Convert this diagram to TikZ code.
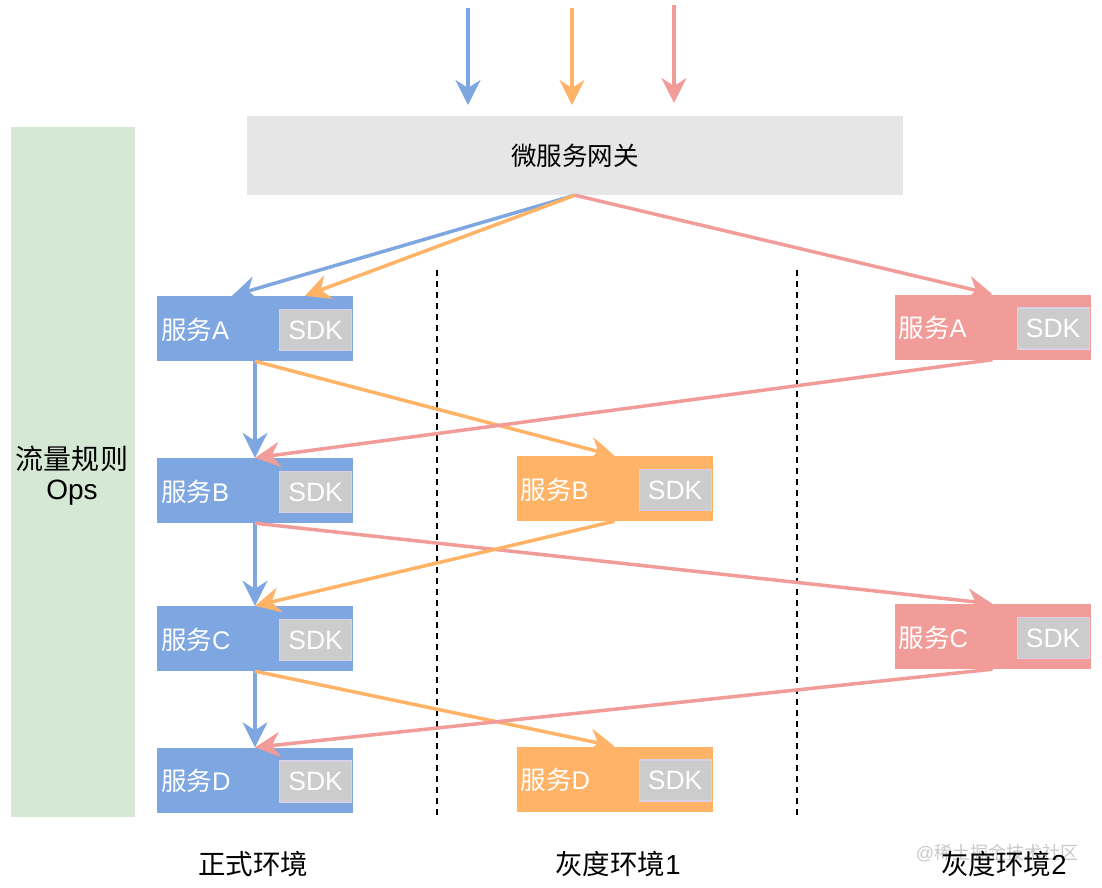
\documentclass[tikz,border=0pt]{standalone}
\usepackage{fontspec}
\setmainfont{Liberation Sans}
\newfontfamily\cjk{Noto Sans CJK SC}
\usetikzlibrary{arrows.meta,calc}
\definecolor{cblue}{HTML}{7EA6E0}
\definecolor{corange}{HTML}{FFB366}
\definecolor{cred}{HTML}{F19C99}
\definecolor{cgreen}{HTML}{D5E8D4}
\definecolor{cgw}{HTML}{E6E6E6}
\definecolor{csdk}{HTML}{CCCCCC}
\definecolor{csdkb}{HTML}{D9D0E8}
\definecolor{cwm}{HTML}{C8C8C8}
\begin{document}
\begin{tikzpicture}[x=1pt,y=-1pt,
  svc/.style={minimum width=196pt, minimum height=65pt, inner sep=0pt, draw=none},
  sdk/.style={fill=csdk, draw=csdkb, line width=1.2pt, minimum width=72pt, minimum height=41pt, inner sep=0pt, text=white, font=\fontsize{26.5}{30}\selectfont},
  lbl/.style={text=white, anchor=west, inner sep=0pt, font=\fontsize{25.5}{30}\selectfont},
  envlbl/.style={text=black, inner sep=0pt, font=\fontsize{27.5}{30}\selectfont},
  flow/.style={line width=3.5pt, -{Stealth[length=25pt,width=25pt,inset=8pt]}},
  sep/.style={line width=1.4pt, dash pattern=on 6pt off 5pt, black}]
\useasboundingbox (0,0) rectangle (1102,888);

% left rule panel
\node[fill=cgreen, minimum width=124pt, minimum height=690pt, inner sep=0pt] (ops) at (73,472) {};
\node[align=center, inner sep=0pt, font=\fontsize{28}{30}\selectfont] (opst) at (72,476) {{\cjk 流量规则}\\Ops};

% gateway
\node[fill=cgw, minimum width=656pt, minimum height=79pt, inner sep=0pt, font=\fontsize{25.5}{30}\selectfont] (gw) at (575,155.5) {{\cjk 微服务网关}};

% incoming arrows
\coordinate (inb1) at (468,8);   \coordinate (inb2) at (468,105);
\coordinate (ino1) at (572,8);   \coordinate (ino2) at (572,105);
\coordinate (inr1) at (674,5);   \coordinate (inr2) at (674,103);
\draw[flow, cblue] (inb1) -- (inb2);
\draw[flow, corange] (ino1) -- (ino2);
\draw[flow, cred] (inr1) -- (inr2);

% separators
\coordinate (d1t) at (437,270); \coordinate (d1b) at (437,815);
\coordinate (d2t) at (797,270); \coordinate (d2b) at (797,815);
\draw[sep] (d1t) -- (d1b);
\draw[sep] (d2t) -- (d2b);

% production services
\node[svc, fill=cblue] (bA) at (255,328.5) {};
\node[svc, fill=cblue] (bB) at (255,490.5) {};
\node[svc, fill=cblue] (bC) at (255,638.5) {};
\node[svc, fill=cblue] (bD) at (255,780) {};
% gray 1
\node[svc, fill=corange] (oB) at (614.5,488.5) {};
\node[svc, fill=corange] (oD) at (614.5,779) {};
% gray 2
\node[svc, fill=cred] (rA) at (992.5,327) {};
\node[svc, fill=cred] (rC) at (992.5,636.5) {};

\foreach \n/\t in {bA/A,bB/B,bC/C,bD/D,oB/B,oD/D,rA/A,rC/C}{
  \node[lbl] (\n l) at ([xshift=4pt,yshift=-1pt]\n.west) {{\cjk 服务}\t};
  \node[sdk, anchor=east] (\n s) at ([xshift=-1pt,yshift=-1.5pt]\n.east) {SDK};
}

% flows
\draw[flow, cblue] (gw.south) -- ([xshift=-23pt]bA.north);
\draw[flow, corange] (gw.south) -- ([xshift=50pt]bA.north);
\draw[flow, cred] (gw.south) -- (rA.north);
\draw[flow, cblue] (bA.south) -- (bB.north);
\draw[flow, cblue] (bB.south) -- (bC.north);
\draw[flow, cblue] (bC.south) -- (bD.north);
\draw[flow, corange] (bA.south) -- (oB.north);
\draw[flow, cred] (rA.south) -- (bB.north);
\draw[flow, cred] (bB.south) -- (rC.north);
\draw[flow, corange] (oB.south) -- (bC.north);
\draw[flow, corange] (bC.south) -- (oD.north);
\draw[flow, cred] (rC.south) -- (bD.north);

% environment labels
\node[text=cwm, inner sep=0pt, font=\fontsize{18}{20}\selectfont] (wm) at (997,853) {@{\cjk 稀土掘金技术社区}};
\node[envlbl] (e0) at (253,864) {{\cjk 正式环境}};
\node[envlbl] (e1) at (618,864) {{\cjk 灰度环境}1};
\node[envlbl] (e2) at (1004,864) {{\cjk 灰度环境}2};
\end{tikzpicture}
\end{document}
